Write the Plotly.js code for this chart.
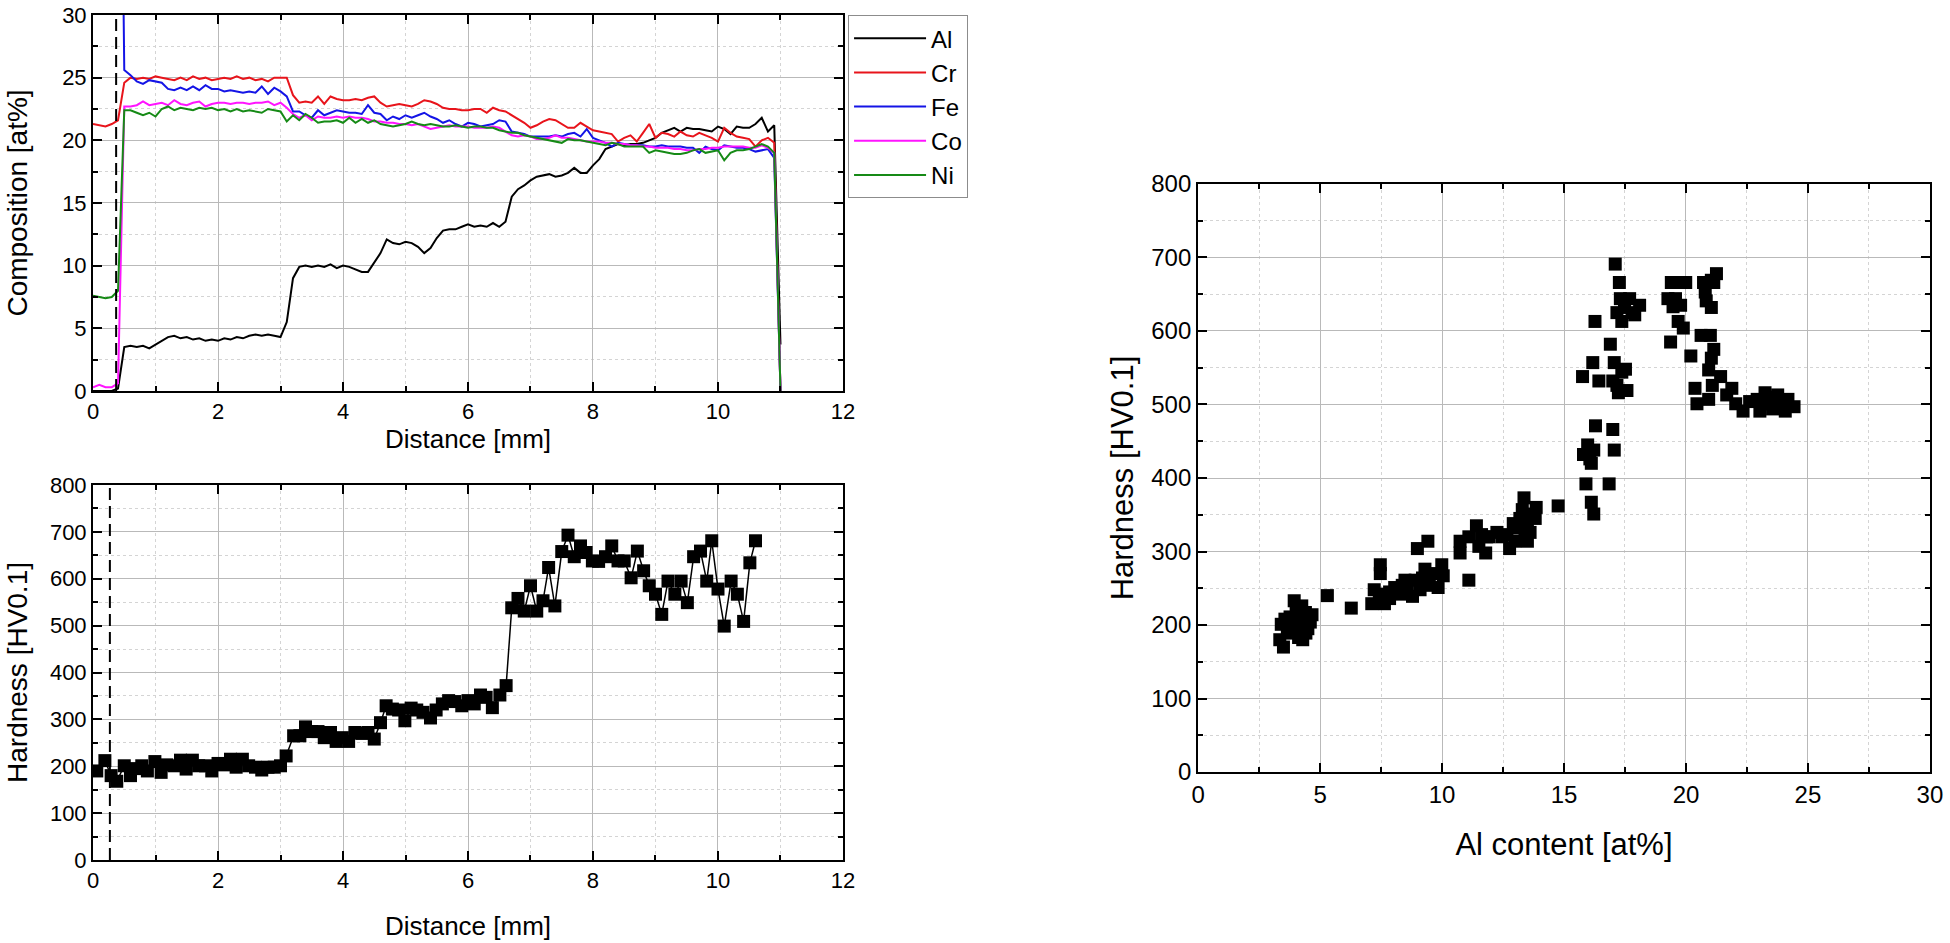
<!DOCTYPE html>
<html>
<head>
<meta charset="utf-8">
<script src="https://cdn.plot.ly/plotly-3.0.1.min.js"></script>
<style>html,body{margin:0;padding:0;background:#fff;}#chart{width:1950px;height:943px;}</style>
</head>
<body>
<div id="chart"></div>
<script>
// ---------- Composition profile (top left) ----------
const distance = [0,0.1,0.2,0.3,0.4,0.5,0.6,0.7,0.8,0.9,
  1.0,1.1,1.2,1.3,1.4,1.5,1.6,1.7,1.8,1.9,
  2.0,2.1,2.2,2.3,2.4,2.5,2.6,2.7,2.8,2.9,
  3.0,3.1,3.2,3.3,3.4,3.5,3.6,3.7,3.8,3.9,
  4.0,4.1,4.2,4.3,4.4,4.5,4.6,4.7,4.8,4.9,
  5.0,5.1,5.2,5.3,5.4,5.5,5.6,5.7,5.8,5.9,
  6.0,6.1,6.2,6.3,6.4,6.5,6.6,6.7,6.8,6.9,
  7.0,7.1,7.2,7.3,7.4,7.5,7.6,7.7,7.8,7.9,
  8.0,8.1,8.2,8.3,8.4,8.5,8.6,8.7,8.8,8.9,
  9.0,9.1,9.2,9.3,9.4,9.5,9.6,9.7,9.8,9.9,
  10.0,10.1,10.2,10.3,10.4,10.5,10.6,10.7,10.8,10.9,
  11.0];

const alComp = [0,0,0,0,0.2,3.5,3.6,3.5,3.6,3.4,
  3.7,4.0,4.3,4.4,4.2,4.3,4.1,4.2,4.0,4.1,
  4.0,4.2,4.1,4.3,4.2,4.4,4.5,4.4,4.5,4.4,
  4.3,5.5,9.0,9.9,10.0,9.9,10.0,9.9,10.1,9.8,
  10.0,9.9,9.7,9.5,9.5,10.2,11.0,12.1,11.8,11.7,
  11.9,11.8,11.5,11.0,11.4,12.2,12.8,12.9,12.9,13.1,
  13.3,13.1,13.2,13.1,13.4,13.1,13.5,15.5,16.1,16.4,
  16.8,17.1,17.2,17.3,17.1,17.2,17.4,17.8,17.4,17.4,
  18.0,18.5,19.3,19.5,19.7,19.6,19.7,19.7,19.8,20.0,
  20.2,20.6,20.8,21.0,20.7,21.0,20.9,20.9,20.8,20.7,
  21.1,20.9,20.5,21.1,21.0,21.0,21.3,21.8,20.7,21.2,
  3.7];

const crComp = [21.3,21.2,21.1,21.3,21.6,24.6,25.0,24.9,25.0,24.9,
  25.1,25.0,24.9,24.8,25.0,24.8,25.1,24.9,25.0,24.8,
  24.9,25.0,24.9,25.1,24.9,25.0,24.8,24.9,24.7,25.0,
  25.0,25.0,23.6,23.0,23.1,23.0,23.5,22.9,23.5,23.3,
  23.2,23.2,23.3,23.2,23.4,23.5,23.0,22.7,22.8,22.9,
  22.8,22.7,22.9,23.2,23.1,22.9,22.6,22.5,22.5,22.4,
  22.4,22.5,22.5,22.2,22.6,22.4,22.3,22.0,21.7,21.4,
  21.0,21.2,21.5,21.7,21.6,21.3,21.0,21.0,21.4,21.1,
  20.8,20.7,20.6,20.5,19.9,20.2,20.4,19.9,20.6,21.3,
  20.2,20.6,20.5,20.3,20.7,20.4,20.3,20.6,20.4,20.2,
  19.9,21.0,20.6,20.3,20.2,20.1,19.5,20.0,20.2,19.8,
  0];

const feComp = [70,70,70,70,70,25.6,25.2,24.7,24.5,24.8,
  24.7,24.6,24.1,24.0,24.2,24.0,24.3,24.0,24.4,24.1,
  24.1,23.9,24.0,23.9,23.8,23.9,23.8,24.3,23.7,24.2,
  23.9,23.5,22.3,22.3,22.0,21.8,22.4,22.0,22.2,22.4,
  22.3,22.2,22.2,22.1,22.8,22.2,22.1,21.6,21.9,21.7,
  22.0,21.8,22.0,22.2,21.9,21.7,21.4,21.6,21.3,21.1,
  21.4,21.3,21.1,21.2,21.3,21.6,21.5,20.7,20.6,20.5,
  20.3,20.3,20.3,20.3,20.4,20.3,20.5,20.6,20.3,20.9,
  20.2,20.0,19.8,19.5,19.8,19.7,19.6,19.6,19.6,19.5,
  19.5,19.6,19.5,19.5,19.5,19.4,19.4,19.0,19.5,19.3,
  19.2,19.6,19.5,19.4,19.4,19.3,19.1,19.2,19.3,18.6,
  0];

const coComp = [0.3,0.5,0.3,0.3,0.6,22.7,22.7,22.8,23.1,22.8,
  22.9,23.0,22.8,23.2,22.9,22.8,23.0,23.1,22.7,22.9,
  23.0,23.0,22.9,23.0,23.0,22.9,23.0,23.0,23.1,22.8,
  23.0,22.6,22.1,21.8,22.0,21.6,21.9,21.8,21.8,21.9,
  21.8,21.9,21.8,21.8,21.7,21.5,21.5,21.4,21.4,21.3,
  21.3,21.2,21.3,21.1,20.9,21.0,21.1,21.2,21.1,21.1,
  21.1,21.0,21.0,21.0,21.1,21.0,20.7,20.4,20.3,20.4,
  20.3,20.1,20.1,20.2,20.4,20.2,20.2,20.1,20.0,19.9,
  19.9,19.9,19.8,19.8,19.7,19.7,19.6,19.6,19.5,19.5,
  19.4,19.4,19.4,19.3,19.3,19.2,19.2,19.3,19.3,19.4,
  19.4,19.5,19.5,19.5,19.5,19.4,19.4,19.6,19.4,19.0,
  0];

const niComp = [7.6,7.5,7.4,7.5,8.0,22.4,22.4,22.2,22.0,22.2,
  21.9,22.5,22.7,22.4,22.6,22.5,22.4,22.6,22.5,22.6,
  22.4,22.5,22.3,22.5,22.3,22.4,22.3,22.2,22.5,22.4,
  22.3,21.5,22.0,21.6,22.1,21.8,21.4,21.5,21.5,21.6,
  21.4,21.8,21.4,21.7,21.4,21.6,21.3,21.2,21.1,21.2,
  21.3,21.5,21.3,21.2,21.3,21.2,21.1,21.1,21.2,21.1,
  21.0,21.1,21.1,21.0,21.0,20.8,20.7,20.6,20.6,20.4,
  20.3,20.2,20.1,20.0,19.9,19.8,20.1,20.0,20.0,19.9,
  19.8,19.7,19.6,19.8,19.7,19.5,19.5,19.5,19.5,19.0,
  19.2,19.1,19.0,18.9,18.9,19.0,19.2,19.3,19.0,19.1,
  19.2,18.4,19.0,19.2,19.2,19.3,19.5,19.7,19.5,19.0,
  0];

const elementNames = ["Al","Cr","Fe","Co","Ni"];
const elementColors = ["#000000","#e8141b","#1414e6","#ff14ff","#168a16"];

// interface (dashed lines), in mm
const interfaceTop = 0.37;
const interfaceBottom = 0.27;

// ---------- Hardness profile (bottom left) ----------
const hvDistance = [0.06,0.19,0.29,0.38,0.5,0.6,0.69,0.78,0.87,0.99,
  1.09,1.18,1.3,1.4,1.49,1.59,1.69,1.8,1.9,2.0,
  2.1,2.2,2.29,2.39,2.49,2.6,2.7,2.8,2.9,3.0,
  3.09,3.21,3.31,3.4,3.5,3.6,3.7,3.8,3.89,3.99,
  4.09,4.19,4.3,4.4,4.5,4.6,4.69,4.79,4.89,4.99,
  5.09,5.18,5.28,5.4,5.49,5.59,5.69,5.79,5.9,6.0,
  6.1,6.2,6.29,6.39,6.51,6.61,6.7,6.8,6.9,7.0,
  7.1,7.2,7.29,7.39,7.5,7.6,7.7,7.8,7.89,7.99,
  8.09,8.2,8.3,8.4,8.5,8.61,8.71,8.81,8.9,9.0,
  9.1,9.2,9.31,9.41,9.51,9.61,9.72,9.82,9.9,10.0,
  10.1,10.21,10.31,10.41,10.51,10.6];

const hvValue = [190,212,180,168,201,180,195,201,190,210,
  187,203,201,213,194,213,201,201,190,206,
  203,215,198,215,201,198,192,198,198,201,
  222,265,265,284,274,274,261,272,253,261,
  253,272,270,272,258,293,329,322,320,297,
  324,320,315,303,320,333,340,338,329,340,
  333,352,347,325,352,372,538,558,531,585,
  531,553,624,542,658,693,647,670,656,638,
  637,647,670,638,638,602,659,617,585,567,
  524,595,567,595,549,647,659,595,681,578,
  499,595,567,509,634,681];

// ---------- Hardness vs Al content (right) ----------
const alContent = [3.35,3.5,3.41,3.56,3.66,3.77,3.87,3.94,4.02,4.08,
  4.12,4.19,4.25,4.29,4.33,4.4,4.46,4.5,4.54,4.6,
  4.67,3.98,4.21,3.79,4.29,4.42,
  5.3,6.28,
  7.12,7.47,7.47,7.43,7.64,7.85,8.06,8.27,8.37,8.58,
  8.79,8.9,8.99,9.2,9.3,9.42,9.48,9.63,9.84,9.99,
  10.05,7.85,7.22,7.64,8.48,9.1,
  11.1,
  10.74,10.74,11.1,11.41,11.51,11.79,11.62,11.93,12.25,12.66,
  12.77,12.98,13.08,13.19,13.29,13.36,13.5,13.61,13.67,13.82,
  13.86,13.5,13.4,12.46,12.92,11.83,
  14.76,
  15.76,15.8,15.9,15.97,16.06,16.12,16.22,16.18,16.27,16.29,
  16.22,16.12,16.43,
  16.85,16.9,17.0,17.06,17.06,17.1,17.17,17.17,17.23,17.27,
  17.31,17.37,17.37,17.48,17.58,17.69,17.79,17.9,18.1,17.52,
  17.0,
  19.26,19.37,19.4,19.47,19.57,19.68,19.78,19.78,19.89,19.99,
  20.2,20.37,20.45,20.62,20.72,20.79,20.83,20.93,20.93,21.0,
  21.04,21.04,21.04,21.14,21.08,21.25,21.14,
  21.42,21.67,21.88,22.04,22.34,22.61,22.92,23.03,23.24,23.34,
  23.45,23.55,23.76,23.93,24.07,24.18,24.43,23.13,23.65];

const hardnessAl = [180,170,201,208,195,211,189,233,223,204,
  183,214,226,180,201,217,208,195,211,204,
  214,198,192,200,214,189,
  240,223,
  229,282,270,232,242,245,251,242,254,251,
  239,261,304,264,276,314,254,270,251,282,
  267,236,248,229,261,248,
  261,
  298,314,320,335,307,298,323,320,326,323,
  304,314,332,345,357,373,338,326,351,345,
  360,314,326,320,338,320,
  362,
  538,432,392,445,426,367,351,557,613,471,
  438,420,532,
  392,582,466,438,557,691,625,526,516,666,
  644,613,544,632,519,644,625,622,635,548,
  532,
  644,585,666,633,644,613,666,635,604,666,
  566,522,501,594,666,653,641,547,507,594,
  632,669,563,575,526,678,666,
  538,513,522,501,491,504,507,491,516,501,
  510,494,513,504,491,507,497,501,504];

// ---------- styling helpers ----------
const FONT = "Liberation Sans, Arial, Helvetica, sans-serif";
function axisStyle(extra) {
  return Object.assign({
    showline: true, linecolor: "#000", linewidth: 2, mirror: "ticks",
    ticks: "inside", ticklen: 9, tickwidth: 2, tickcolor: "#000",
    showgrid: true, gridcolor: "#b9b9b9", gridwidth: 1,
    zeroline: false, automargin: false, fixedrange: true,
    tickfont: {family: FONT, size: 22, color: "#000"}
  }, extra);
}
function minorStyle(dt) {
  return {dtick: dt, ticks: "inside", ticklen: 5, tickwidth: 2, tickcolor: "#000",
          showgrid: true, gridcolor: "#d4d4d4", griddash: "dot", gridwidth: 1};
}

const traces = [];
const compSeries = [alComp, crComp, feComp, coComp, niComp];
compSeries.forEach(function (vals, i) {
  traces.push({
    type: "scatter", mode: "lines", x: distance, y: vals,
    name: elementNames[i], xaxis: "x", yaxis: "y",
    line: {color: elementColors[i], width: 2}
  });
});
traces.push({
  type: "scatter", mode: "lines+markers", x: hvDistance, y: hvValue,
  xaxis: "x2", yaxis: "y2", showlegend: false,
  line: {color: "#000", width: 1.5},
  marker: {symbol: "square", size: 13, color: "#000"}
});
traces.push({
  type: "scatter", mode: "markers", x: alContent, y: hardnessAl,
  xaxis: "x3", yaxis: "y3", showlegend: false,
  marker: {symbol: "square", size: 13, color: "#000"}
});

const layout = {
  width: 1950, height: 943,
  margin: {l: 0, r: 0, t: 0, b: 0},
  paper_bgcolor: "#fff", plot_bgcolor: "#fff",
  font: {family: FONT, color: "#000"},
  showlegend: true,
  legend: {
    x: 0.4349, y: 0.984, xanchor: "left", yanchor: "top",
    bordercolor: "#8c8c8c", borderwidth: 1, bgcolor: "#fff",
    font: {family: FONT, size: 24, color: "#000"},
    tracegroupgap: 0, itemwidth: 72
  },
  xaxis: axisStyle({
    domain: [0.0477, 0.4323], anchor: "y", range: [0, 12], dtick: 2,
    minor: minorStyle(1),
    title: {text: "Distance [mm]", font: {family: FONT, size: 26}, standoff: 6}
  }),
  yaxis: axisStyle({
    domain: [0.5854, 0.9841], anchor: "x", range: [0, 30], dtick: 5,
    minor: minorStyle(2.5),
    title: {text: "Composition [at%]", font: {family: FONT, size: 28}, standoff: 26}
  }),
  xaxis2: axisStyle({
    domain: [0.0477, 0.4323], anchor: "y2", range: [0, 12], dtick: 2,
    minor: minorStyle(1),
    title: {text: "Distance [mm]", font: {family: FONT, size: 26}, standoff: 24}
  }),
  yaxis2: axisStyle({
    domain: [0.0880, 0.4857], anchor: "x2", range: [0, 800], dtick: 100,
    minor: minorStyle(50),
    title: {text: "Hardness [HV0.1]", font: {family: FONT, size: 28}, standoff: 14}
  }),
  xaxis3: axisStyle({
    domain: [0.6144, 0.9897], anchor: "y3", range: [0, 30], dtick: 5,
    minor: minorStyle(2.5),
    tickfont: {family: FONT, size: 24, color: "#000"},
    title: {text: "Al content [at%]", font: {family: FONT, size: 31}, standoff: 26}
  }),
  yaxis3: axisStyle({
    domain: [0.1813, 0.8049], anchor: "x3", range: [0, 800], dtick: 100,
    minor: minorStyle(50),
    tickfont: {family: FONT, size: 24, color: "#000"},
    title: {text: "Hardness [HV0.1]", font: {family: FONT, size: 31}, standoff: 8}
  }),
  shapes: [
    {type: "line", xref: "x", yref: "y domain", x0: interfaceTop, x1: interfaceTop, y0: 0, y1: 1,
     line: {color: "#000", width: 2, dash: "12px,6px"}},
    {type: "line", xref: "x2", yref: "y2 domain", x0: interfaceBottom, x1: interfaceBottom, y0: 0, y1: 1,
     line: {color: "#000", width: 2, dash: "12px,6px"}}
  ]
};

Plotly.newPlot("chart", traces, layout, {displayModeBar: false, staticPlot: true});
</script>
</body>
</html>
